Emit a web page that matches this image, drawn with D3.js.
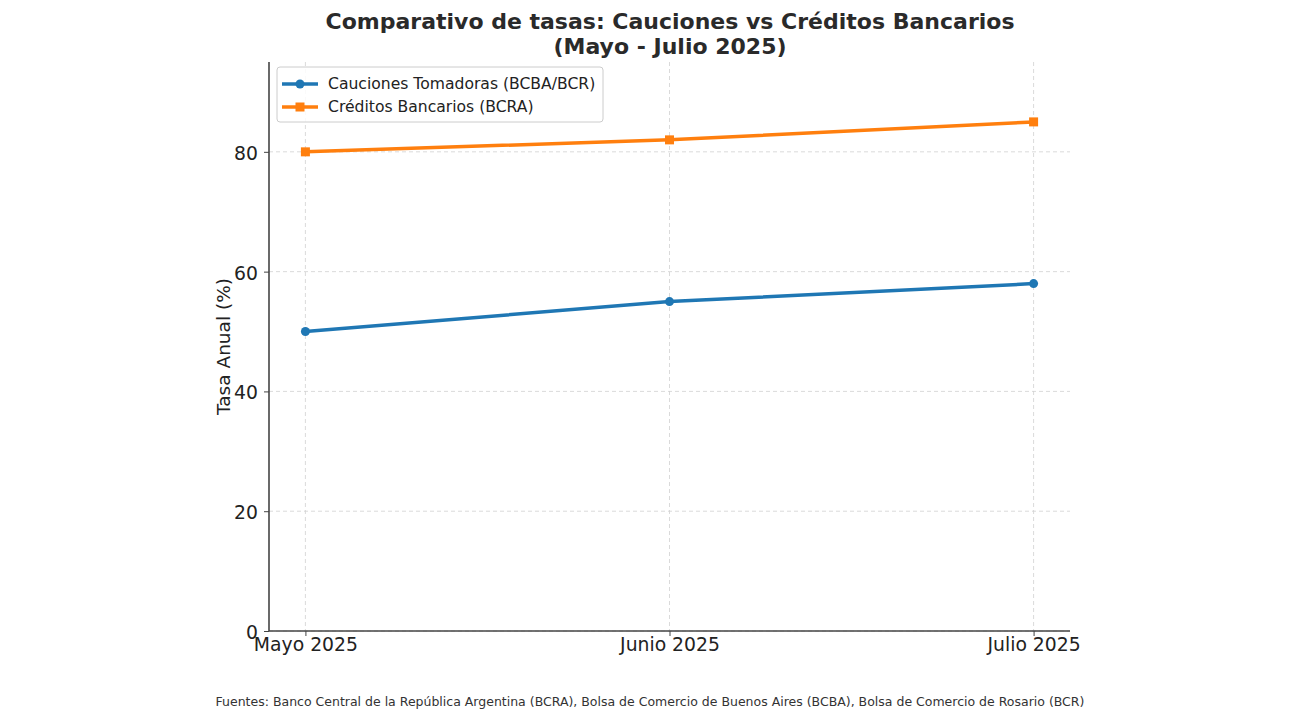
<!DOCTYPE html>
<html>
<head>
<meta charset="utf-8">
<script src="https://cdn.jsdelivr.net/npm/d3@7"></script>
<style>
  body { margin: 0; background: #fff; }
  svg { font-family: "DejaVu Sans", sans-serif; }
</style>
</head>
<body>
<script>
// data
const months = ["Mayo 2025", "Junio 2025", "Julio 2025"];
const cauciones = [50, 55, 58];
const creditos = [80, 82, 85];
const yTicks = [0, 20, 40, 60, 80];
const seriesNames = ["Cauciones Tomadoras (BCBA/BCR)", "Créditos Bancarios (BCRA)"];

const w = 1300, h = 720;
const margin = {top: 62, right: 230, bottom: 89, left: 269};

const svg = d3.select("body").append("svg")
    .attr("width", w)
    .attr("height", h);

const x = d3.scalePoint()
    .domain(months)
    .range([margin.left, w - margin.right])
    .padding(0.1);

const y = d3.scaleLinear()
    .domain([0, 95])
    .range([h - margin.bottom, margin.top]);

// grid
const grid = svg.append("g");
grid.selectAll(".gy").data(yTicks).join("line")
    .attr("x1", margin.left).attr("x2", w - margin.right)
    .attr("y1", d => y(d)).attr("y2", d => y(d))
    .attr("stroke", "#d0d0d0").attr("stroke-dasharray", "4,3").attr("stroke-width", 0.8);
grid.selectAll(".gx").data(months).join("line")
    .attr("x1", d => x(d)).attr("x2", d => x(d))
    .attr("y1", margin.top).attr("y2", h - margin.bottom)
    .attr("stroke", "#d0d0d0").attr("stroke-dasharray", "4,3").attr("stroke-width", 0.8);

// axes
let xAxis = g => g
    .attr("transform", `translate(0,${h - margin.bottom})`)
    .call(d3.axisBottom(x).tickSize(5).tickPadding(2))
    .call(g => g.select(".domain").attr("d", `M${margin.left},0H${w - margin.right}`));

let yAxis = g => g
    .attr("transform", `translate(${margin.left},0)`)
    .call(d3.axisLeft(y).tickValues(yTicks).tickSize(5).tickPadding(6))
    .call(g => g.select(".domain").attr("d", `M0,${margin.top}V${h - margin.bottom}`));

const gx = svg.append("g").call(xAxis);
const gy = svg.append("g").call(yAxis);
[gx, gy].forEach(g => {
    g.select(".domain").attr("stroke", "#444").attr("stroke-width", 1.6);
    g.selectAll(".tick line").attr("stroke", "#444").attr("stroke-width", 1);
    g.selectAll(".tick text").attr("fill", "#222").style("font-size", "18.8px")
        .style("font-family", "DejaVu Sans, sans-serif");
});
gy.selectAll(".tick text").attr("dy", "0.4em");

// y label
svg.append("text")
    .attr("transform", `translate(230,${(margin.top + h - margin.bottom) / 2}) rotate(-90)`)
    .attr("text-anchor", "middle")
    .style("font-size", "18.5px").attr("fill", "#222")
    .text("Tasa Anual (%)");

// lines
const line = d3.line().x((d, i) => x(months[i])).y(d => y(d));
const colors = ["#1f77b4", "#ff7f0e"];
[cauciones, creditos].forEach((data, k) => {
    svg.append("path").datum(data)
        .attr("fill", "none").attr("stroke", colors[k]).attr("stroke-width", 3.5)
        .attr("d", line);
    if (k === 0) {
        svg.selectAll(".pc").data(data).join("circle")
            .attr("cx", (d, i) => x(months[i])).attr("cy", d => y(d))
            .attr("r", 4.5).attr("fill", colors[k]);
    } else {
        svg.selectAll(".ps").data(data).join("rect")
            .attr("x", (d, i) => x(months[i]) - 4.5).attr("y", d => y(d) - 4.5)
            .attr("width", 9).attr("height", 9).attr("fill", colors[k]);
    }
});

// legend
const lg = svg.append("g").attr("transform", "translate(277,67)");
lg.append("rect").attr("width", 326).attr("height", 55).attr("rx", 3)
    .attr("fill", "#fff").attr("fill-opacity", 0.85).attr("stroke", "#ccc");
seriesNames.forEach((name, k) => {
    const yy = 17 + k * 23;
    lg.append("line").attr("x1", 5).attr("x2", 41).attr("y1", yy).attr("y2", yy)
        .attr("stroke", colors[k]).attr("stroke-width", 3.5);
    if (k === 0) lg.append("circle").attr("cx", 23).attr("cy", yy).attr("r", 4.5).attr("fill", colors[k]);
    else lg.append("rect").attr("x", 18.5).attr("y", yy - 4.5).attr("width", 9).attr("height", 9).attr("fill", colors[k]);
    lg.append("text").attr("x", 51).attr("y", yy).attr("dy", "0.35em")
        .style("font-size", "15.6px").attr("fill", "#222").text(name);
});

// title
const title = svg.append("text").attr("text-anchor", "middle")
    .style("font-size", "22px").style("font-weight", "bold").attr("fill", "#2a2a2a");
title.append("tspan").attr("x", 670).attr("y", 29).text("Comparativo de tasas: Cauciones vs Créditos Bancarios");
title.append("tspan").attr("x", 670).attr("y", 54).text("(Mayo - Julio 2025)");

// footnote
svg.append("text").attr("x", 650).attr("y", 706).attr("text-anchor", "middle")
    .style("font-size", "12.5px").attr("fill", "#333")
    .text("Fuentes: Banco Central de la República Argentina (BCRA), Bolsa de Comercio de Buenos Aires (BCBA), Bolsa de Comercio de Rosario (BCR)");
</script>
</body>
</html>
